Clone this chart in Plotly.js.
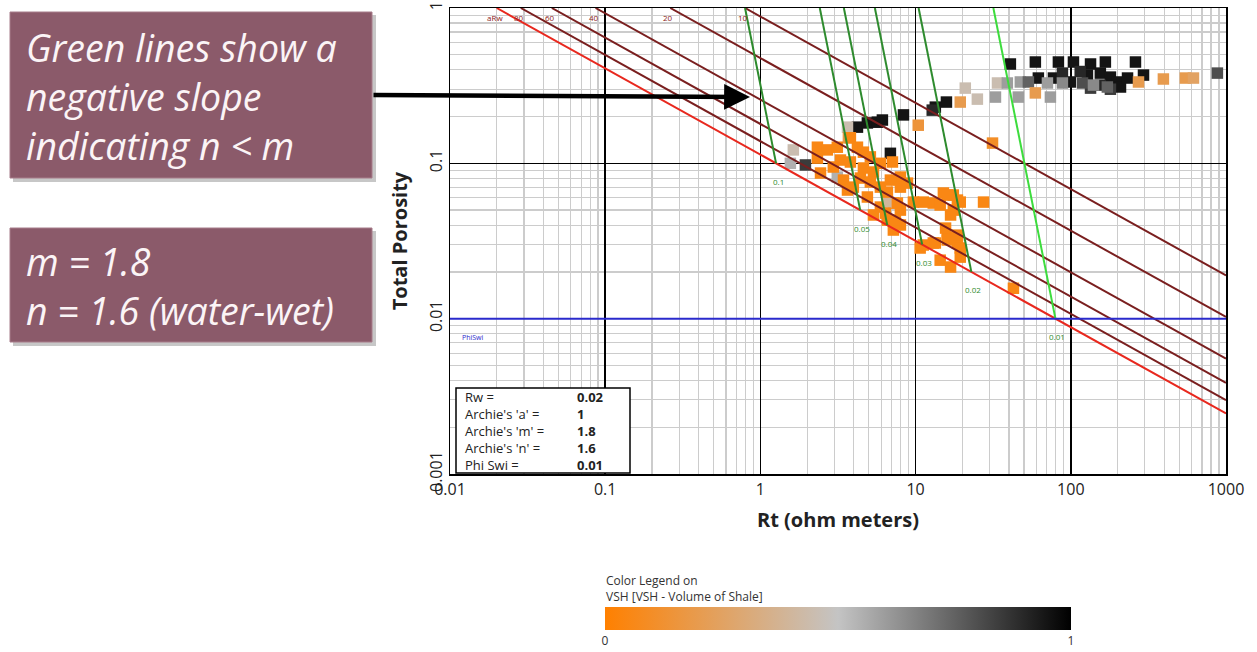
<!DOCTYPE html>
<html>
<head>
<meta charset="utf-8">
<script src="https://cdn.plot.ly/plotly-3.0.1.min.js"></script>
<style>html,body{margin:0;padding:0;background:#fff;}#chart{width:1257px;height:652px;}</style>
</head>
<body>
<div id="chart"></div>
<script>
// ---- Archie parameters (from the chart's parameter box) ----
const Rw = 0.02;
const aArchie = 1;
const mArchie = 1.8;
const nArchie = 1.6;
const phiSwi = 0.01;

// Water-saturation lines (Sw) and their labels
const swValues = [1, 0.8, 0.6, 0.4, 0.2, 0.1];
const swLabels = ['aRw', '80', '60', '40', '20', '10'];

// Bulk-volume-water lines (green) and labels
const bvwValues = [0.1, 0.05, 0.04, 0.03, 0.02, 0.01];
const bvwLabels = ['0.1', '0.05', '0.04', '0.03', '0.02', '0.01'];

// Parameter box text
const paramNames = ["Rw =", "Archie's 'a' =", "Archie's 'm' =", "Archie's 'n' =", "Phi Swi ="];
const paramValues = ["0.02", "1", "1.8", "1.6", "0.01"];

// Axis ticks
const xTickVals = [0.01, 0.1, 1, 10, 100, 1000];
const xTickText = ['0.01', '0.1', '1', '10', '100', '1000'];
const yTickVals = [0.001, 0.01, 0.1, 1];
const yTickText = ['0.001', '0.01', '0.1', '1'];

// ---- Data points: Rt (ohm m), total porosity, VSH ----
const rt = [
  40.8, 59.1, 83.2, 104, 134, 167, 261, 294, 61.8, 77.3, 99.4, 128, 155, 180, 200, 209, 232,
  88.3, 115, 180, 155, 134,
  47.3, 53.3, 70.7, 88.3, 119, 140, 172, 45.9, 59.1, 73.9, 273, 395, 547, 617, 880,
  33.7, 39.0, 32.7, 20.9, 19.4, 25.0, 15.8, 13.4, 12.8, 8.35, 10.4,
  4.22, 4.89, 5.67, 6.11, 3.64, 3.69, 31.3, 6.88, 7.09,
  1.63, 1.56, 1.95, 3.13,
  2.33, 2.70, 3.13, 3.80, 5.11, 2.33, 3.28, 3.80, 4.61, 5.35, 5.93, 7.98, 8.86, 3.97, 4.89,
  5.93, 7.19, 7.98, 5.35, 6.58, 7.98, 7.19, 9.68, 11.2, 13.0, 15.1, 17.5, 19.4, 14.4, 27.4,
  17.5, 10.7, 13.0, 16.0, 18.6, 19.4, 14.4, 16.8, 19.4, 42.7, 2.44, 2.95, 3.43, 3.64, 4.41,
  5.11, 5.93, 6.68, 6.88, 7.98, 6.58, 7.63, 7.41, 6.39, 16.0, 18.6, 16.8, 15.6, 18.6, 11.2,
  13.4, 16.0, 4.22, 4.61
];
const porosity = [
  0.436, 0.449, 0.449, 0.449, 0.436, 0.449, 0.449, 0.370, 0.354, 0.354, 0.334, 0.370, 0.381, 0.359, 0.334, 0.310, 0.354,
  0.381, 0.390, 0.300, 0.319, 0.305,
  0.334, 0.334, 0.329, 0.329, 0.329, 0.319, 0.310, 0.267, 0.284, 0.267, 0.334, 0.349, 0.354, 0.354, 0.381,
  0.329, 0.329, 0.267, 0.305, 0.248, 0.259, 0.248, 0.230, 0.220, 0.205, 0.176,
  0.171, 0.182, 0.184, 0.190, 0.171, 0.146, 0.135, 0.116, 0.102,
  0.122, 0.100, 0.0976, 0.0816,
  0.127, 0.122, 0.127, 0.146, 0.110, 0.108, 0.105, 0.102, 0.0933, 0.0879, 0.0703, 0.0816, 0.0746, 0.0703, 0.0607,
  0.0523, 0.0555, 0.0500, 0.0465, 0.0431, 0.0401, 0.0372, 0.0563, 0.0563, 0.0555, 0.0644, 0.0625, 0.0563, 0.0539, 0.0563,
  0.0500, 0.0285, 0.0307, 0.0335, 0.0307, 0.0285, 0.0238, 0.0215, 0.0249, 0.0157, 0.0866, 0.0947, 0.0780, 0.0673, 0.0804,
  0.0758, 0.100, 0.0563, 0.0780, 0.0703, 0.0653, 0.0555, 0.0431, 0.0478, 0.0625, 0.0580, 0.0465, 0.0383, 0.0345, 0.0298,
  0.0307, 0.0321, 0.127, 0.118
];
const vsh = [
  0.95, 0.95, 0.95, 0.95, 0.95, 0.95, 0.95, 0.95, 0.95, 0.95, 0.95, 0.95, 0.95, 0.95, 0.95, 0.95, 0.95,
  0.9, 0.9, 0.85, 0.9, 0.85,
  0.6, 0.75, 0.6, 0.65, 0.8, 0.65, 0.75, 0.6, 0.2, 0.6, 0.2, 0.2, 0.2, 0.25, 0.8,
  0.45, 0.6, 0.6, 0.45, 0.2, 0.45, 0.95, 0.95, 0.9, 0.95, 0.15,
  0.95, 0.95, 0.95, 0.95, 0.45, 0.2, 0.1, 0.95, 0.05,
  0.45, 0.55, 0.85, 0.55,
  0.05, 0.05, 0.05, 0.05, 0.05, 0.05, 0.05, 0.05, 0.05, 0.05, 0.05, 0.05, 0.05, 0.05, 0.05,
  0.05, 0.05, 0.05, 0.05, 0.05, 0.05, 0.05, 0.05, 0.05, 0.05, 0.05, 0.05, 0.05, 0.05, 0.05,
  0.05, 0.05, 0.05, 0.05, 0.05, 0.05, 0.05, 0.05, 0.05, 0.05, 0.05, 0.05, 0.05, 0.05, 0.05,
  0.05, 0.05, 0.4, 0.05, 0.05, 0.05, 0.05, 0.05, 0.05, 0.05, 0.05, 0.05, 0.05, 0.05, 0.05,
  0.05, 0.05, 0.05, 0.05
];

// Callout text
const callout1 = ['Green lines show a', 'negative slope', 'indicating n < m'];
const callout2 = ['m = 1.8', 'n = 1.6 (water-wet)'];
const legendTitle = ['Color Legend on', 'VSH [VSH - Volume of Shale]'];

// ---- build ----
const X_MIN = 0.01, X_MAX = 1000;
const traces = [];

// geometry helpers (plot area: x 450..1226, y 8..474)
const L = 450, R = 1226, T = 8, B = 474;
const px = v => (v - L) / (R - L);
const py = v => (B - v) / (B - T);

traces.push({
  type: 'scatter', mode: 'markers', x: rt, y: porosity,
  marker: {
    symbol: 'square', size: 11.5, color: vsh, cmin: 0, cmax: 1,
    colorscale: [[0, '#ff8000'], [0.5, '#c4c4c4'], [1, '#000000']],
    line: {width: 0},
    showscale: true,
    colorbar: {
      orientation: 'h', x: px(605), xanchor: 'left', y: py(607), yanchor: 'top', ypad: 0, xpad: 0,
      lenmode: 'pixels', len: 466, thickness: 23, outlinewidth: 0,
      tickvals: [0, 1], ticktext: ['0', '1'], ticks: '', ticklabelposition: 'outside',
      tickfont: {family: 'Open Sans', size: 12, color: '#333'}
    }
  },
  hoverinfo: 'skip', showlegend: false
});

const annotations = [];

// Sw lines
swValues.forEach((sw, i) => {
  const rtTop = aArchie * Rw / Math.pow(sw, nArchie);
  const phiEnd = Math.pow(aArchie * Rw / (X_MAX * Math.pow(sw, nArchie)), 1 / mArchie);
  traces.push({type: 'scatter', mode: 'lines', x: [rtTop, X_MAX], y: [1, phiEnd],
    line: {color: sw === 1 ? '#e8281e' : '#7a1f1f', width: 2}, hoverinfo: 'skip', showlegend: false});
  annotations.push({x: Math.log10(rtTop), y: 0, xref: 'x', yref: 'y', text: swLabels[i], showarrow: false,
    yshift: -9, xshift: -2, font: {family: 'Open Sans', size: 8, color: '#8b2020'}});
});

// BVW lines
bvwValues.forEach((b, i) => {
  const rtBottom = aArchie * Rw / (Math.pow(b, nArchie) * Math.pow(b, mArchie - nArchie));
  const rtTop = aArchie * Rw / Math.pow(b, nArchie);
  traces.push({type: 'scatter', mode: 'lines', x: [rtBottom, rtTop], y: [b, 1],
    line: {color: b === 0.01 ? '#3ddc3d' : '#2e8b2e', width: 2}, hoverinfo: 'skip', showlegend: false});
  annotations.push({x: Math.log10(rtBottom), y: Math.log10(b), xref: 'x', yref: 'y', text: bvwLabels[i], showarrow: false,
    yshift: -18, xshift: 2, font: {family: 'Open Sans', size: 8, color: '#2e8b2e'}});
});

// Phi Swi line
traces.push({type: 'scatter', mode: 'lines', x: [X_MIN, X_MAX], y: [phiSwi, phiSwi],
  line: {color: '#2a2acc', width: 2}, hoverinfo: 'skip', showlegend: false});
annotations.push({x: -2, y: Math.log10(phiSwi), xref: 'x', yref: 'y', text: 'PhiSwi', showarrow: false,
  xanchor: 'left', xshift: 10, yshift: -19, font: {family: 'Open Sans', size: 7, color: '#2a2acc'}});

// parameter box text
annotations.push({xref: 'paper', yref: 'paper', x: px(463), y: py(431), xanchor: 'left', yanchor: 'middle', align: 'left',
  text: paramNames.join('<br>'), showarrow: false, font: {family: 'Open Sans', size: 13, color: '#222'}});
annotations.push({xref: 'paper', yref: 'paper', x: px(575), y: py(431), xanchor: 'left', yanchor: 'middle', align: 'left',
  text: paramValues.map(v => '<b>' + v + '</b>').join('<br>'), showarrow: false, font: {family: 'Open Sans', size: 13, color: '#222'}});

// callouts
annotations.push({xref: 'paper', yref: 'paper', x: px(24), y: py(96), xanchor: 'left', yanchor: 'middle', align: 'left',
  text: callout1.map(t => '<i>' + t + '</i>').join('<br>'), showarrow: false,
  font: {family: 'Open Sans', size: 37.5, color: '#fbf4f6'}});
annotations.push({xref: 'paper', yref: 'paper', x: px(24), y: py(286), xanchor: 'left', yanchor: 'middle', align: 'left',
  text: callout2.map(t => '<i>' + t + '</i>').join('<br>'), showarrow: false,
  font: {family: 'Open Sans', size: 37.5, color: '#fbf4f6'}});

// colour legend title
annotations.push({xref: 'paper', yref: 'paper', x: px(604), y: py(588), xanchor: 'left', yanchor: 'middle', align: 'left',
  text: legendTitle.join('<br>'), showarrow: false, font: {family: 'Open Sans', size: 12, color: '#333'}});

// arrow
annotations.push({xref: 'paper', yref: 'paper', x: px(750), y: py(97), ax: -378, ay: -2, axref: 'pixel', ayref: 'pixel',
  text: '', showarrow: true, arrowhead: 2, arrowsize: 1.15, arrowwidth: 4.5, arrowcolor: '#000'});

const shapes = [
  // callout shadows + boxes
  {type: 'rect', xref: 'paper', yref: 'paper', x0: px(13), x1: px(376), y0: py(15), y1: py(182), fillcolor: 'rgba(0,0,0,0.22)', line: {width: 0}, layer: 'above'},
  {type: 'rect', xref: 'paper', yref: 'paper', x0: px(10), x1: px(372), y0: py(12), y1: py(178), fillcolor: '#8b5a6a', line: {color: '#a77d8a', width: 1}, layer: 'above'},
  {type: 'rect', xref: 'paper', yref: 'paper', x0: px(13), x1: px(376), y0: py(231), y1: py(346), fillcolor: 'rgba(0,0,0,0.22)', line: {width: 0}, layer: 'above'},
  {type: 'rect', xref: 'paper', yref: 'paper', x0: px(10), x1: px(372), y0: py(228), y1: py(342), fillcolor: '#8b5a6a', line: {color: '#a77d8a', width: 1}, layer: 'above'},
  // parameter box
  {type: 'rect', xref: 'paper', yref: 'paper', x0: px(456), x1: px(630), y0: py(388), y1: py(473), fillcolor: '#ffffff', line: {color: '#000', width: 1.5}, layer: 'above'}
];

const layout = {
  width: 1257, height: 652,
  margin: {l: L, r: 1257 - R, t: T, b: 652 - B, autoexpand: false},
  paper_bgcolor: '#fff', plot_bgcolor: '#fff',
  showlegend: false,
  xaxis: {
    type: 'log', range: [-2, 3], tickvals: xTickVals, ticktext: xTickText, ticks: '',
    showgrid: true, gridcolor: '#000', gridwidth: 1.5,
    minor: {showgrid: true, gridcolor: '#cccccc', gridwidth: 1.2, dtick: 'D1', ticks: ''},
    showline: true, linecolor: '#000', linewidth: 1.5, mirror: true,
    tickfont: {family: 'Open Sans', size: 16, color: '#222'},
    title: {text: 'Rt (ohm meters)', font: {family: 'Open Sans', size: 20, color: '#222', weight: 'bold'}, standoff: 14},
    zeroline: false, automargin: false
  },
  yaxis: {
    type: 'log', range: [-3, 0], tickvals: yTickVals, ticktext: yTickText, ticks: '', tickangle: -90,
    showgrid: true, gridcolor: '#000', gridwidth: 1.5,
    minor: {showgrid: true, gridcolor: '#cccccc', gridwidth: 1.2, dtick: 'D1', ticks: ''},
    showline: true, linecolor: '#000', linewidth: 1.5, mirror: true,
    tickfont: {family: 'Open Sans', size: 16, color: '#222'},
    title: {text: 'Total Porosity', font: {family: 'Open Sans', size: 20, color: '#222', weight: 'bold'}, standoff: 12},
    zeroline: false, automargin: false
  },
  annotations: annotations,
  shapes: shapes
};

Plotly.newPlot('chart', traces, layout, {staticPlot: true, displayModeBar: false});
</script>
</body>
</html>
